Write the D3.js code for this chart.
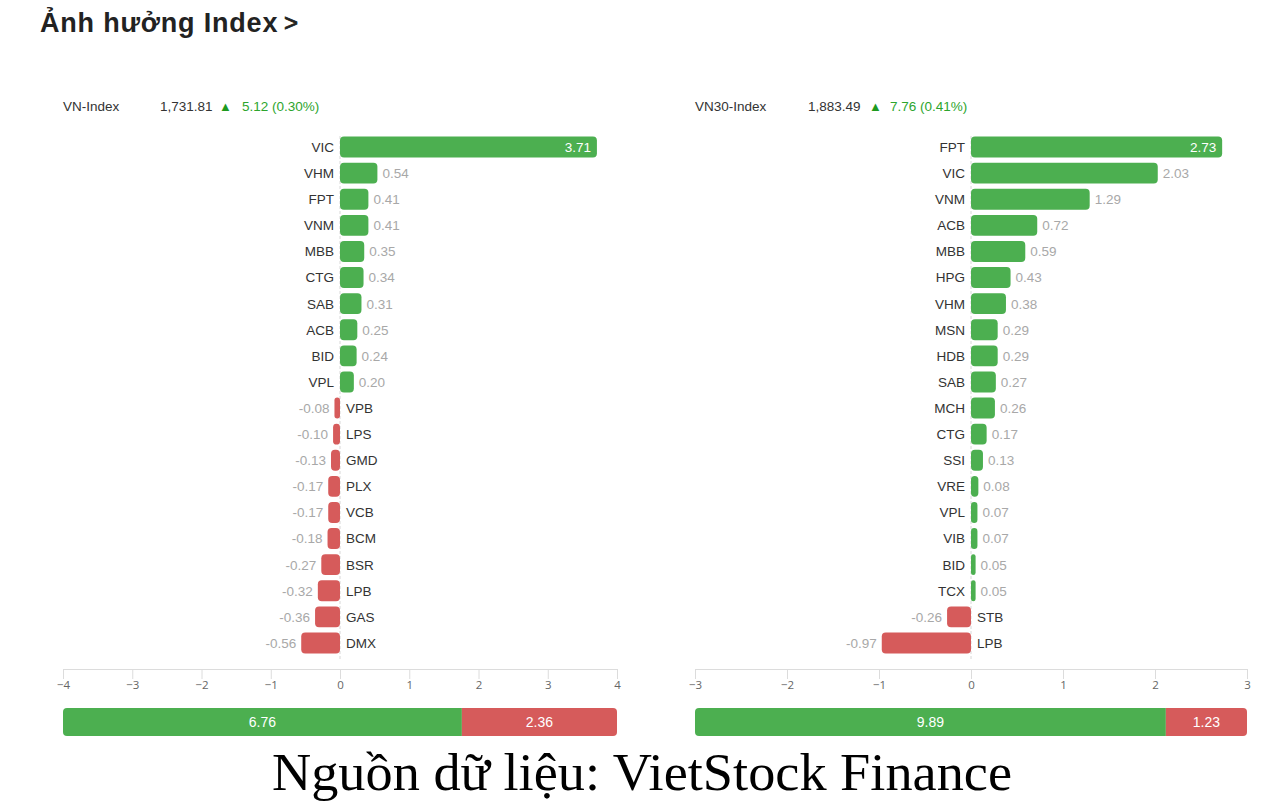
<!DOCTYPE html>
<html>
<head>
<meta charset="utf-8">
<script src="https://cdn.jsdelivr.net/npm/d3@7/dist/d3.min.js"></script>
<style>
  html, body { margin: 0; padding: 0; background: #fff; }
  svg { display: block; font-family: "Liberation Sans", Arial, sans-serif; }
</style>
</head>
<body>
<svg id="chart" width="1284" height="804"></svg>
<script>
// ---- data ----
const title = "Ảnh hưởng Index";
const sourceText = "Nguồn dữ liệu: VietStock Finance";

const vnIndexName = "VN-Index";
const vnIndexValue = "1,731.81";
const vnIndexChange = "5.12 (0.30%)";
const vnTickers = ["VIC","VHM","FPT","VNM","MBB","CTG","SAB","ACB","BID","VPL",
                   "VPB","LPS","GMD","PLX","VCB","BCM","BSR","LPB","GAS","DMX"];
const vnValues = [3.71,0.54,0.41,0.41,0.35,0.34,0.31,0.25,0.24,0.20,
                  -0.08,-0.10,-0.13,-0.17,-0.17,-0.18,-0.27,-0.32,-0.36,-0.56];
const vnTicks = [-4,-3,-2,-1,0,1,2,3,4];
const vnTotals = [6.76, 2.36];       // positive, negative
const vnGreenShare = 0.72;           // split position

const vn30Name = "VN30-Index";
const vn30Value = "1,883.49";
const vn30Change = "7.76 (0.41%)";
const vn30Tickers = ["FPT","VIC","VNM","ACB","MBB","HPG","VHM","MSN","HDB","SAB",
                     "MCH","CTG","SSI","VRE","VPL","VIB","BID","TCX","STB","LPB"];
const vn30Values = [2.73,2.03,1.29,0.72,0.59,0.43,0.38,0.29,0.29,0.27,
                    0.26,0.17,0.13,0.08,0.07,0.07,0.05,0.05,-0.26,-0.97];
const vn30Ticks = [-3,-2,-1,0,1,2,3];
const vn30Totals = [9.89, 1.23];
const vn30GreenShare = 0.853;

// ---- styles ----
const GREEN = "#4caf50", RED = "#d65b5b";
const svg = d3.select("#chart");

// title
svg.append("text").attr("x", 40).attr("y", 32)
  .attr("fill", "#222").attr("font-size", 27).attr("font-weight", "bold")
  .attr("letter-spacing", 0.8).text(title);
svg.append("text").attr("x", 284).attr("y", 31).attr("fill", "#222")
  .attr("font-size", 24).attr("stroke", "#222").attr("stroke-width", 0.8).text(">");

// source
svg.append("text").attr("x", 642).attr("y", 790).attr("text-anchor", "middle")
  .attr("font-family", "'Liberation Serif', 'Times New Roman', serif")
  .attr("font-size", 52).attr("fill", "#000")
  .attr("textLength", 740).attr("lengthAdjust", "spacingAndGlyphs")
  .text(sourceText);

function panel(cfg) {
  const g = svg.append("g");
  // header
  g.append("text").attr("x", cfg.x0).attr("y", 111).attr("font-size", 13.5)
    .attr("fill", "#333").text(cfg.name);
  g.append("text").attr("x", cfg.valX).attr("y", 111).attr("font-size", 13.5)
    .attr("fill", "#333").text(cfg.value);
  g.append("text").attr("x", cfg.triX).attr("y", 111).attr("font-size", 13)
    .attr("fill", "#1e9a1e").text("▲");
  g.append("text").attr("x", cfg.chgX).attr("y", 111).attr("font-size", 13.5)
    .attr("fill", "#2da52d").text(cfg.change);

  const x = d3.scaleLinear().domain(d3.extent(cfg.ticks)).range([cfg.x0, cfg.x1]);
  const y = d3.scaleBand().domain(cfg.tickers).range([134, 656])
    .paddingInner(0.2).paddingOuter(0.1);
  const x0 = x(0);

  // zero line
  g.append("line").attr("x1", x0).attr("x2", x0).attr("y1", 136).attr("y2", 660)
    .attr("stroke", "#d8d8d8").attr("stroke-width", 1).attr("stroke-dasharray", "3,2");

  const data = cfg.tickers.map((k, i) => ({ k, v: cfg.values[i] }));
  const rows = g.selectAll("g.row").data(data).join("g").attr("class", "row");

  rows.append("rect")
    .attr("x", d => Math.min(x(d.v), x0))
    .attr("y", d => y(d.k))
    .attr("width", d => Math.max(Math.abs(x(d.v) - x0), 4))
    .attr("height", y.bandwidth())
    .attr("rx", d => Math.min(4, Math.max(Math.abs(x(d.v) - x0), 4) / 2))
    .attr("fill", d => d.v >= 0 ? GREEN : RED);

  // ticker labels
  rows.append("text")
    .attr("x", d => d.v >= 0 ? x0 - 6 : x0 + 6)
    .attr("y", d => y(d.k) + y.bandwidth() / 2)
    .attr("dy", "0.36em")
    .attr("text-anchor", d => d.v >= 0 ? "end" : "start")
    .attr("font-size", 13.5).attr("fill", "#333")
    .text(d => d.k);

  // value labels
  const fmt = d3.format(".2f");
  rows.append("text")
    .each(function (d) {
      const end = x(d.v);
      const sel = d3.select(this);
      const inside = d.v >= 0 ? (end + 40 > cfg.x1) : (end - 40 < cfg.x0);
      const s = fmt(d.v).replace("−", "-");
      sel.attr("y", y(d.k) + y.bandwidth() / 2).attr("dy", "0.36em")
        .attr("font-size", 13.5).text(s);
      if (inside) {
        sel.attr("x", d.v >= 0 ? end - 6 : end + 6)
          .attr("text-anchor", d.v >= 0 ? "end" : "start").attr("fill", "#fff");
      } else {
        const e = d.v >= 0 ? Math.max(end, x0 + 4) : Math.min(end, x0 - 4);
        sel.attr("x", d.v >= 0 ? e + 5 : e - 5)
          .attr("text-anchor", d.v >= 0 ? "start" : "end").attr("fill", "#a8a8a8");
      }
    });

  // axis
  const ax = g.append("g").attr("transform", "translate(0,669)")
    .call(d3.axisBottom(x).tickValues(cfg.ticks).tickSize(10).tickSizeOuter(0)
      .tickFormat(d3.format("d")));
  ax.select(".domain").attr("stroke", "#dcdcdc");
  ax.selectAll(".tick line").attr("stroke", "#dcdcdc");
  ax.selectAll(".tick text").attr("fill", "#666").attr("font-size", 11.5)
    .attr("font-family", "'Open Sans', 'Liberation Sans', sans-serif").attr("y", 12);

  // breadth bar
  const bx = d3.scaleLinear().domain([0, 1]).range([cfg.x0, cfg.x1]);
  const clipId = "clip-" + cfg.id;
  g.append("clipPath").attr("id", clipId).append("rect")
    .attr("x", bx(0)).attr("y", 708).attr("width", bx(1) - bx(0)).attr("height", 28).attr("rx", 4);
  const bb = g.append("g").attr("clip-path", `url(#${clipId})`);
  const split = bx(cfg.share);
  bb.append("rect").attr("x", bx(0)).attr("y", 708).attr("width", split - bx(0)).attr("height", 28).attr("fill", GREEN);
  bb.append("rect").attr("x", split).attr("y", 708).attr("width", bx(1) - split).attr("height", 28).attr("fill", RED);
  g.append("text").attr("x", (bx(0) + split) / 2).attr("y", 722).attr("dy", "0.36em")
    .attr("text-anchor", "middle").attr("fill", "#fff").attr("font-size", 14)
    .text(fmt(cfg.totals[0]));
  g.append("text").attr("x", (split + bx(1)) / 2).attr("y", 722).attr("dy", "0.36em")
    .attr("text-anchor", "middle").attr("fill", "#fff").attr("font-size", 14)
    .text(fmt(cfg.totals[1]));
}

panel({ id: "vn", x0: 63, x1: 617, valX: 160, triX: 219, chgX: 242,
  name: vnIndexName, value: vnIndexValue, change: vnIndexChange,
  tickers: vnTickers, values: vnValues, ticks: vnTicks, totals: vnTotals, share: vnGreenShare });
panel({ id: "vn30", x0: 695, x1: 1247, valX: 808, triX: 869, chgX: 890,
  name: vn30Name, value: vn30Value, change: vn30Change,
  tickers: vn30Tickers, values: vn30Values, ticks: vn30Ticks, totals: vn30Totals, share: vn30GreenShare });
</script>
</body>
</html>
